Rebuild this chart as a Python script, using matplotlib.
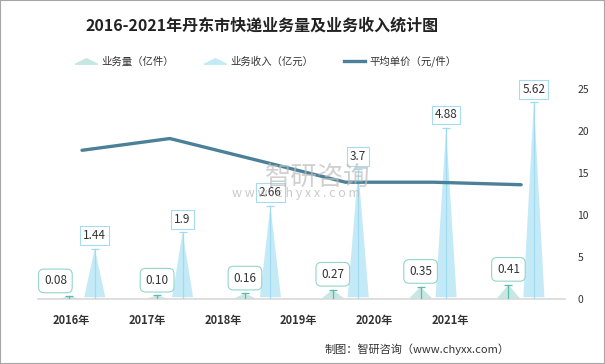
import numpy as np
import matplotlib.pyplot as plt
from matplotlib.lines import Line2D
from matplotlib.patches import Rectangle

plt.rcParams['font.family'] = ['Noto Sans CJK SC', 'DejaVu Sans']

# data
years = ['2016年', '2017年', '2018年', '2019年', '2020年', '2021年']
volume = [0.08, 0.10, 0.16, 0.27, 0.35, 0.41]      # 业务量（亿件）
revenue = [1.44, 1.9, 2.66, 3.7, 4.88, 5.62]       # 业务收入（亿元）
price = [17.7, 19.1, 16.5, 13.9, 13.9, 13.6]       # 平均单价（元/件）

c_green = '#c7e7e2'
c_green_edge = '#93d5cc'
c_green_stem = '#5bbcae'
c_blue = '#c4eaf8'
c_blue_edge = '#a5dcf0'
c_blue_stem = '#a0dbef'
c_line = '#4b8198'
c_text = '#333333'

fig = plt.figure(figsize=(6.05, 3.64), dpi=100)
ax = fig.add_axes([0.063, 0.1786, 0.871, 0.577])
ax2 = ax.twinx()

x = np.arange(len(years))
off = 0.145
w_g, w_b = 0.27, 0.24

for i in x:
    # 业务量 triangle
    xg = i - off
    v = volume[i]
    ax.fill([xg - w_g / 2, xg, xg + w_g / 2], [0, v, 0], color=c_green, lw=0, zorder=2)
    ax.plot([xg, xg], [0, v], color=c_green_stem, lw=0.9, zorder=3)
    ax.plot(xg, v, marker='_', ms=6, mew=0.9, color=c_green_stem, zorder=3)
    dx = -10 if i == 0 else 0
    ax.annotate(f'{v:.2f}', xy=(xg, v), xytext=(dx, 11), textcoords='offset points',
                ha='center', va='center', fontsize=8.5, color=c_text, zorder=5,
                bbox=dict(boxstyle='round,pad=0.45', fc='white', ec=c_green_edge, lw=0.8))

    # 业务收入 triangle
    xb = i + off
    r = revenue[i]
    ax.fill([xb - w_b / 2, xb, xb + w_b / 2], [0.05, r, 0.05], color=c_blue, lw=0, zorder=2)
    ax.plot([xb, xb], [0, r], color=c_blue_stem, lw=0.9, zorder=3)
    ax.plot(xb, r, marker='_', ms=6, mew=0.9, color=c_blue_stem, zorder=3)
    ax.annotate(f'{r:g}', xy=(xb, r), xytext=(0, 9.5), textcoords='offset points',
                ha='center', va='center', fontsize=8.5, color=c_text, zorder=5,
                bbox=dict(boxstyle='square,pad=0.25', fc='white', ec=c_blue_edge, lw=0.8))

ax.set_xlim(-0.5, 5.5)
ax.set_ylim(0, 6)
ax.set_yticks([])
for s in ['top', 'left', 'right']:
    ax.spines[s].set_visible(False)
ax.spines['bottom'].set_color('#d9d9d9')
ax.spines['bottom'].set_linewidth(1.2)
ax.set_xticks(-0.125 + 0.864 * x)
ax.set_xticklabels(years, fontsize=8, fontweight='bold', color=c_text)
ax.tick_params(axis='x', length=0, pad=11)

ax2.plot(x, price, color=c_line, lw=2.4, zorder=4, solid_capstyle='round')
ax2.set_ylim(0, 25)
ax2.set_yticks([0, 5, 10, 15, 20, 25])
ax2.tick_params(axis='y', length=0, pad=9, labelsize=7.5, labelcolor=c_text)
for s in ax2.spines.values():
    s.set_visible(False)

# watermark
fig.text(0.438, 0.513, '智研咨询', fontsize=19, color='#bdbdbd', alpha=0.7,
         ha='left', va='center')
fig.text(0.383, 0.468, 'w w w . c h y x x . c o m', fontsize=9, color='#bdbdbd',
         alpha=0.8, ha='left', va='center')

# title, legend, source
fig.text(0.433, 0.931, '2016-2021年丹东市快递业务量及业务收入统计图', fontsize=11.5,
         fontweight='bold', color='#222222', ha='center', va='center')

tri = [(-1, -0.25), (0, 0.25), (1, -0.25), (-1, -0.25)]
handles = [
    Line2D([], [], ls='none', marker=tri, ms=16, color=c_green, mec=c_green),
    Line2D([], [], ls='none', marker=tri, ms=16, color=c_blue, mec=c_blue),
    Line2D([], [], color=c_line, lw=2.4),
]
labels = ['业务量（亿件）', '业务收入（亿元）', '平均单价（元/件）']
fig.legend(handles, labels, loc='center', bbox_to_anchor=(0.44, 0.832), ncol=3,
           frameon=False, fontsize=7.5, handlelength=2.0, handletextpad=0.4,
           columnspacing=3.0, labelcolor=c_text)

fig.text(0.843, 0.041, '制图：智研咨询（www.chyxx.com）', fontsize=8, color=c_text,
         ha='right', va='center')

fig.patches.append(Rectangle((0, 0), 1, 1, transform=fig.transFigure, fill=False,
                             ec='#a6a6a6', lw=1.5))

fig.savefig('out.png', dpi=100)
